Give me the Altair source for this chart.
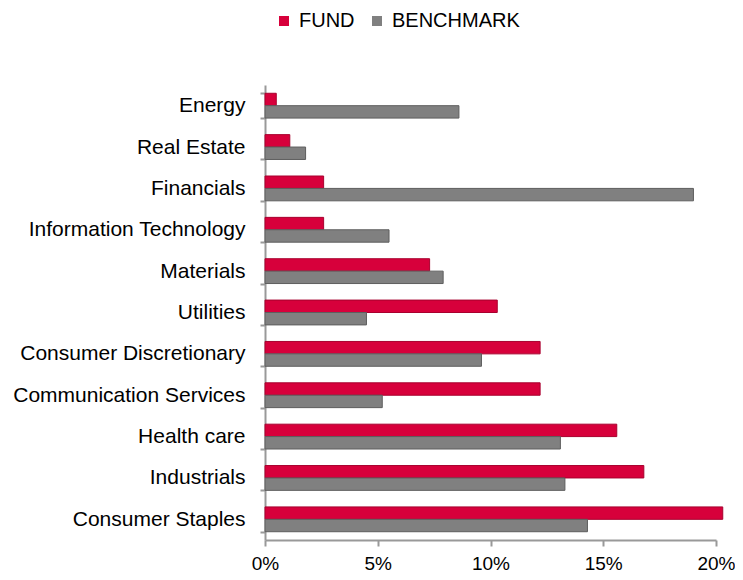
import altair as alt
import pandas as pd

sectors = ["Energy", "Real Estate", "Financials", "Information Technology", "Materials",
           "Utilities", "Consumer Discretionary", "Communication Services", "Health care",
           "Industrials", "Consumer Staples"]
fund = [0.5, 1.1, 2.6, 2.6, 7.3, 10.3, 12.2, 12.2, 15.6, 16.8, 20.3]
benchmark = [8.6, 1.8, 19.0, 5.5, 7.9, 4.5, 9.6, 5.2, 13.1, 13.3, 14.3]
series = ["FUND", "BENCHMARK"]
colors = ["#D7003B", "#808080"]
strokes = ["#A8002E", "#5E5E5E"]
x_ticks = [0, 0.05, 0.10, 0.15, 0.20]

rows = []
for s, f, b in zip(sectors, fund, benchmark):
    rows.append({"sector": s, "series": "FUND", "value": f / 100})
    rows.append({"sector": s, "series": "BENCHMARK", "value": b / 100})
df = pd.DataFrame(rows)

FONT = "Liberation Sans"

chart = alt.Chart(df).mark_bar(strokeWidth=1).encode(
    y=alt.Y("sector:N", sort=sectors,
            scale=alt.Scale(paddingInner=0.4, paddingOuter=0.2),
            axis=alt.Axis(title=None, labelFont=FONT, labelFontSize=21, labelColor="#000000",
                          labelPadding=15, tickSize=5, tickBand="extent",
                          domainColor="#999999", domainWidth=2, tickColor="#999999",
                          tickWidth=2, labelLimit=400)),
    yOffset=alt.YOffset("series:N", sort=series, scale=alt.Scale(paddingInner=0)),
    x=alt.X("value:Q", scale=alt.Scale(domain=[0, 0.2], nice=False),
            axis=alt.Axis(title=None, values=x_ticks, format=".0%", grid=False,
                          labelFont=FONT, labelFontSize=19, labelColor="#000000",
                          labelFlush=False, labelOverlap=False,
                          labelPadding=8, tickSize=6, domainColor="#999999",
                          domainWidth=2, tickColor="#999999", tickWidth=2)),
    color=alt.Color("series:N", sort=series,
                    scale=alt.Scale(domain=series, range=colors),
                    legend=alt.Legend(title=None, orient="none", direction="horizontal",
                                      legendX=7, legendY=-76, symbolType="square",
                                      symbolSize=100, symbolStrokeWidth=0,
                                      labelFont=FONT, labelFontSize=20,
                                      labelColor="#000000", labelOffset=5,
                                      columnPadding=12, padding=2)),
    stroke=alt.Stroke("series:N", sort=series,
                      scale=alt.Scale(domain=series, range=strokes), legend=None),
).properties(
    width=451, height=455,
    autosize=alt.AutoSizeParams(type="none"),
    padding={"left": 257, "top": 77, "right": 19, "bottom": 40},
).configure_view(stroke=None)

chart.save("out.html", embed_options={"renderer": "svg", "actions": False})
